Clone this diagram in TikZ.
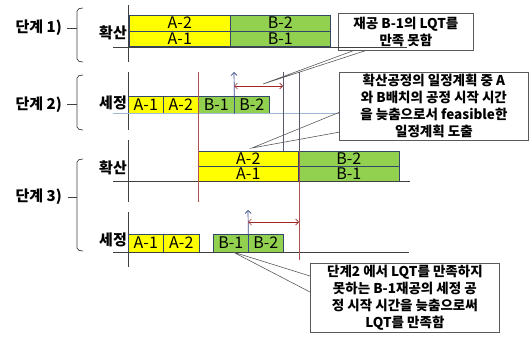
\documentclass[tikz,border=0pt]{standalone}
\usepackage{fontspec}
\setmainfont{Noto Sans CJK KR}
\usetikzlibrary{calc,arrows.meta}
\definecolor{byel}{HTML}{FFFF00}
\definecolor{bgrn}{HTML}{92D050}
\definecolor{bedge}{HTML}{34466A}
\definecolor{rline}{HTML}{B05050}
\definecolor{aline}{HTML}{404040}
\definecolor{blline}{HTML}{9DB9D5}
\definecolor{barr}{HTML}{3A4A8A}
\definecolor{darr}{HTML}{A02828}
\definecolor{cbord}{HTML}{5A5A5A}
\definecolor{gline}{HTML}{5A5A6A}
\begin{document}
\begin{tikzpicture}[x=1pt,y=-1pt,
 bar/.style={draw=bedge,line width=0.6pt,inner sep=0pt,anchor=north west,text height=11pt,text depth=0pt,font=\fontsize{16}{16}\selectfont},
 ybar/.style={bar,fill=byel},
 gbar/.style={bar,fill=bgrn},
 stagelbl/.style={font=\bfseries\fontsize{15}{15}\selectfont,anchor=east,inner sep=0pt},
 proclbl/.style={font=\bfseries\fontsize{15}{15}\selectfont,anchor=east,inner sep=0pt},
 axisln/.style={draw=aline,line width=0.7pt},
 braceln/.style={draw=aline,line width=0.7pt,rounded corners=2pt},
 callout/.style={draw=cbord,line width=0.8pt,fill=white,align=center,font=\bfseries\fontsize{13.5}{17}\selectfont,inner sep=0pt,anchor=north west},
 wedge/.style={draw=cbord,line width=0.6pt},
 upar/.style={draw=barr,line width=0.7pt,-{Straight Barb[length=3pt,width=6pt]}},
 dblar/.style={draw=darr,line width=0.7pt,{Straight Barb[length=3pt,width=6pt]}-{Straight Barb[length=3pt,width=6pt]}},
 redv/.style={draw=rline,line width=0.7pt},
 grayv/.style={draw=gline,line width=0.7pt}
]
\useasboundingbox (0,0) rectangle (530,340);

% ---------- callout boxes ----------
\node[callout,minimum width=135pt,minimum height=37pt] (c1) at (338,13) {재공 B-1의 LQT를\\만족 못함};
\node[callout,minimum width=189pt,minimum height=68pt] (c2) at (339,72) {확산공정의 일정계획 중 A\\와 B배치의 공정 시작 시간\\을 늦춤으로서 feasible한\\일정계획 도출};
\node[callout,minimum width=189pt,minimum height=69pt] (c3) at (310,263) {단계2 에서 LQT를 만족하지\\못하는 B-1재공의 세정 공\\정 시작 시간을 늦춤으로써\\LQT를 만족함};

% ---------- stage 1 ----------
\node[stagelbl] (st1) at (62,28) {단계 1)};
\draw[braceln] (83,8) -- (77,9) -- (77,61) -- (83,62);
\draw[axisln] (67,28) -- (77,28);
\node[proclbl] (p1) at (127,33) {확산};
\draw[axisln] (128,5) -- (128,62);
\node[ybar,minimum width=101pt,minimum height=16pt] (s1a2) at (129,15) {A-2};
\node[ybar,minimum width=101pt,minimum height=15pt] (s1a1) at (129,31) {A-1};
\node[gbar,minimum width=100pt,minimum height=16pt] (s1b2) at (230,15) {B-2};
\node[gbar,minimum width=100pt,minimum height=15pt] (s1b1) at (230,31) {B-1};
\draw[axisln] (113,47) -- (407,47);

% ---------- stage 2 ----------
\node[stagelbl] (st2) at (62,105) {단계 2)};
\draw[braceln] (83,75) -- (77,76) -- (77,129) -- (83,130);
\draw[axisln] (67,104) -- (77,104);
\node[proclbl] (p2) at (127,103) {세정};
\draw[axisln] (128,72) -- (128,130);
\node[ybar,minimum width=35pt,minimum height=17pt] (s2a1) at (128,96) {A-1};
\node[ybar,minimum width=35pt,minimum height=17pt] (s2a2) at (163,96) {A-2};
\node[gbar,minimum width=36pt,minimum height=17pt] (s2b1) at (198,96) {B-1};
\node[gbar,minimum width=35pt,minimum height=17pt] (s2b2) at (234,96) {B-2};
\draw[draw=blline,line width=0.8pt] (113,113) -- (c2.west |- 0,113);

% ---------- stage 3 ----------
\node[stagelbl] (st3) at (62,197) {단계 3)};
\draw[braceln] (83,159) -- (77,160) -- (77,250) -- (83,251);
\draw[axisln] (68,197) -- (77,197);
\node[proclbl] (p3a) at (127,168) {확산};
\draw[axisln] (128,140) -- (128,202);
\node[ybar,minimum width=100pt,minimum height=15pt] (s3a2) at (198,151) {A-2};
\node[ybar,minimum width=100pt,minimum height=15pt] (s3a1) at (198,166) {A-1};
\node[gbar,minimum width=101pt,minimum height=15pt] (s3b2) at (298,151) {B-2};
\node[gbar,minimum width=101pt,minimum height=15pt] (s3b1) at (298,166) {B-1};
\draw[axisln] (113,181) -- (410,181);

\node[proclbl] (p3b) at (127,240) {세정};
\draw[axisln] (128,212) -- (128,267);
\node[ybar,minimum width=35pt,minimum height=18pt] (s3sa1) at (128,234) {A-1};
\node[ybar,minimum width=36pt,minimum height=18pt] (s3sa2) at (163,234) {A-2};
\node[gbar,minimum width=35pt,minimum height=18pt] (s3sb1) at (213,234) {B-1};
\node[gbar,minimum width=35pt,minimum height=18pt] (s3sb2) at (248,234) {B-2};
\draw[axisln] (113,252) -- (409,252);

% ---------- vertical guide lines ----------
\draw[redv] (198,72) -- (198,202);
\draw[grayv] (283,72) -- (283,151);
\draw[grayv] (299,72) -- (299,151);
\draw[redv] (299,151) -- (299,260);

% ---------- arrows ----------
\coordinate (u2) at (234,72);
\draw[upar] (s2b1.south east) -- (u2);
\coordinate (r2a) at (234,86);
\coordinate (r2b) at (283,86);
\draw[dblar] (r2a) -- (r2b);
\coordinate (u3) at (248,210);
\draw[upar] (s3sb1.south east) -- (u3);
\coordinate (r3a) at (248,222);
\coordinate (r3b) at (299,222);
\draw[dblar] (r3a) -- (r3b);

% ---------- callout pointers ----------
\coordinate (t1) at (263,84);
\draw[wedge] ($(c1.south west)+(15,0)$) -- (t1) -- ($(c1.south west)+(27,0)$);
\coordinate (t2) at (252,148);
\draw[wedge] ($(c2.north west)+(1,40)$) -- (t2) -- ($(c2.north west)+(1,60)$);
\coordinate (t3) at (233,252);
\draw[wedge] ($(c3.north west)+(0,13)$) -- (t3) -- ($(c3.north west)+(0,29)$);
\end{tikzpicture}
\end{document}
